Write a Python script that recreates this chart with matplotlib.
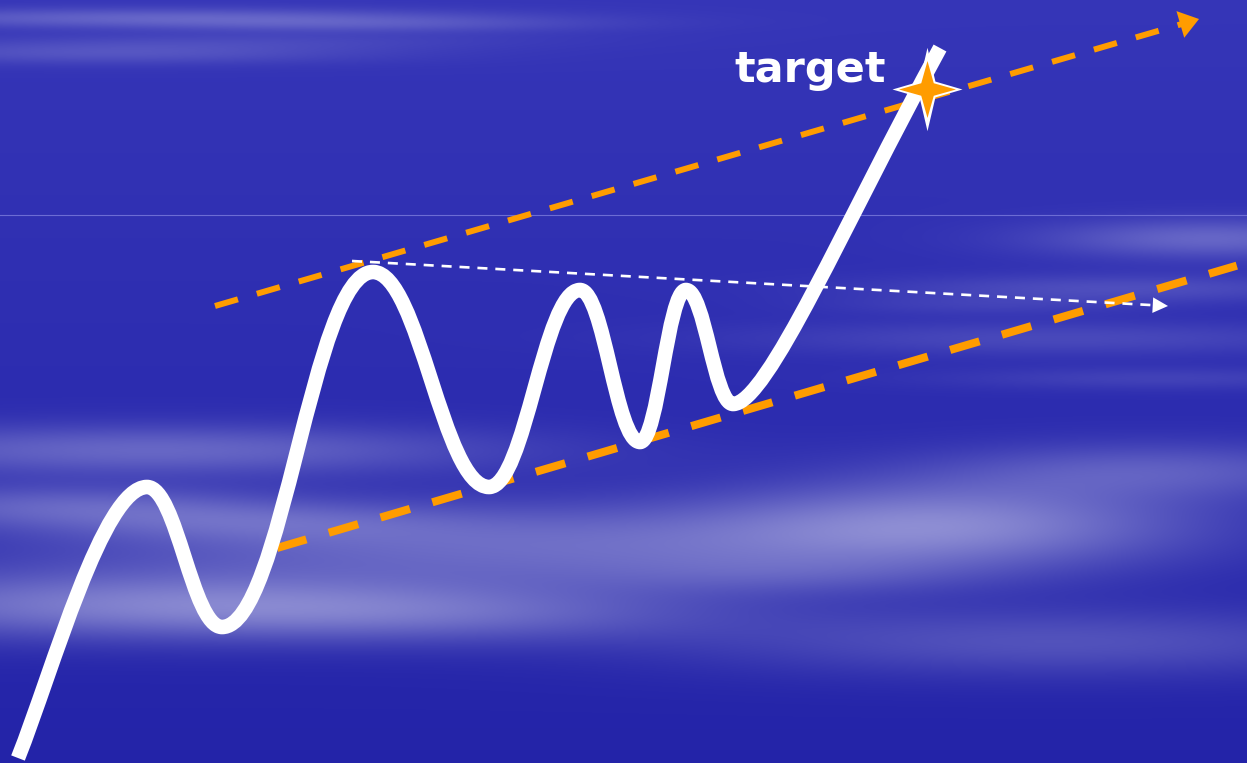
import numpy as np
import matplotlib
matplotlib.use("Agg")
import matplotlib.pyplot as plt
from matplotlib.path import Path
from matplotlib.patches import PathPatch

W, H = 1247, 763

# price curve: start, alternating peaks/troughs, end (pixel coords, y down)
curve_x = [18, 147, 222, 373, 489, 580, 640, 686, 733, 940]
curve_y = [758, 487, 627, 272, 487, 290, 442, 290, 404, 48]

# trend lines (start, arrow tip)
upper_x, upper_y = [215, 1199], [306, 19]
lower_x, lower_y = [277, 1256], [548, 260]
resist_x, resist_y = [352, 1168], [261, 306]

star_x, star_y = [927], [89]
label = "target"
label_x, label_y = 734, 82

ORANGE = "#ff9c00"

# cloud streaks: x centre, y centre, x spread, y spread, strength
clouds = [
    (150, 17, 230, 7, 0.22), (380, 24, 160, 6, 0.12), (110, 52, 190, 8, 0.16),
    (260, 40, 200, 6, 0.07),
    (1210, 238, 120, 14, 0.26), (1120, 288, 170, 10, 0.15), (1060, 338, 220, 12, 0.13),
    (1160, 378, 160, 8, 0.10), (980, 305, 110, 7, 0.07),
    (150, 450, 250, 18, 0.28), (50, 505, 150, 15, 0.22), (250, 522, 150, 14, 0.14),
    (520, 545, 330, 30, 0.30), (950, 522, 170, 30, 0.36), (1160, 470, 160, 20, 0.22),
    (140, 605, 260, 24, 0.36), (450, 615, 200, 20, 0.18), (1060, 642, 260, 24, 0.20),
    (780, 575, 150, 15, 0.10),
]

fig = plt.figure(figsize=(W / 100, H / 100), dpi=100)
ax = fig.add_axes([0, 0, 1, 1])
ax.set_xlim(0, W)
ax.set_ylim(H, 0)
ax.axis("off")

# background: blue gradient + soft white streaks
gx, gy = np.meshgrid(np.arange(0, W, 2), np.arange(0, H, 2))
t = gy / H
top = np.array([0.21, 0.21, 0.72])
bot = np.array([0.14, 0.14, 0.66])
base = top[None, None, :] * (1 - t[..., None]) + bot[None, None, :] * t[..., None]
a = np.zeros_like(t, dtype=float)
for xc, yc, sx, sy, s in clouds:
    a += s * np.exp(-0.5 * ((gx - xc) / sx) ** 2 - 0.5 * ((gy - yc) / sy) ** 2)
a = np.clip(a, 0, 0.5)[..., None]
bg = base * (1 - a) + a
ax.imshow(bg, extent=(0, W, H, 0), aspect="auto", interpolation="bilinear", zorder=0)
ax.axhline(215, color="#6c6cd4", lw=0.8, zorder=1)


def dashed_arrow(xs, ys, color, lw, dashes, head_len, head_w):
    dx, dy = xs[1] - xs[0], ys[1] - ys[0]
    n = np.hypot(dx, dy)
    head_px = head_len * 20 / 0.72
    end = (xs[1] - dx / n * head_px * 0.8, ys[1] - dy / n * head_px * 0.8)
    ax.plot([xs[0], end[0]], [ys[0], end[1]], color=color, lw=lw, dashes=dashes,
            solid_capstyle="butt", dash_capstyle="butt", zorder=3)
    back = (xs[1] - dx / n * 30, ys[1] - dy / n * 30)
    ax.annotate("", xy=(xs[1], ys[1]), xytext=back,
                arrowprops=dict(arrowstyle=f"-|>,head_length={head_len},head_width={head_w}",
                                fc=color, ec=color, lw=0, shrinkA=0, shrinkB=0,
                                mutation_scale=20), zorder=3)


dashed_arrow(upper_x, upper_y, ORANGE, 4.3, (4, 3.3), 0.7, 0.5)
dashed_arrow(lower_x, lower_y, ORANGE, 5.8, (3.8, 2.9), 0.9, 0.6)
dashed_arrow(resist_x, resist_y, "white", 1.9, (3.8, 3.0), 0.55, 0.28)

# wave: cubic Beziers with flat tangents at every peak and trough
k = 0.4
verts = [(curve_x[0], curve_y[0])]
codes = [Path.MOVETO]
n = len(curve_x)
for i in range(n - 1):
    x0, y0, x1, y1 = curve_x[i], curve_y[i], curve_x[i + 1], curve_y[i + 1]
    dx = x1 - x0
    if i == 0:        # steep straight-ish start
        c1 = (x0 + 35, y0 - 88)
        c2 = (x1 - 0.85 * k * dx, y1)
    elif i == n - 2:  # quick turn then straight run to the end
        c1 = (x0 + 34, y0)
        c2 = (x1 - 96, y1 + 176)
    else:
        c1 = (x0 + k * dx, y0)
        c2 = (x1 - k * dx, y1)
    verts += [c1, c2, (x1, y1)]
    codes += [Path.CURVE4] * 3
ax.add_patch(PathPatch(Path(verts, codes), fill=False, ec="white", lw=10.5,
                       capstyle="butt", joinstyle="round", zorder=4))

# four-pointed star marker
def star_path(wx, waist):
    v = [(0, 1), (waist, waist), (wx, 0), (waist, -waist), (0, -1),
         (-waist, -waist), (-wx, 0), (-waist, waist), (0, 1)]
    return Path(v, [Path.MOVETO] + [Path.LINETO] * 7 + [Path.CLOSEPOLY])


ax.plot(star_x, star_y, marker=star_path(0.84, 0.19), ms=60, color="white", lw=0,
        mew=0, zorder=5)
ax.plot(star_x, star_y, marker=star_path(1.0, 0.22), ms=41, color=ORANGE, lw=0,
        mew=0, zorder=6)

ax.text(label_x, label_y, label, color="white", fontsize=31, fontweight="bold",
        family="DejaVu Sans", ha="left", va="baseline", zorder=6)

fig.savefig("out.png", dpi=100)
